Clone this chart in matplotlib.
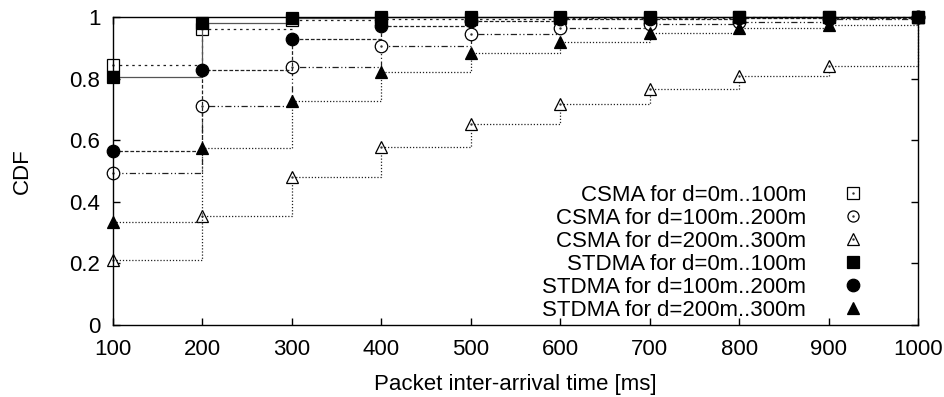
import matplotlib
matplotlib.use('Agg')
import matplotlib.pyplot as plt
from matplotlib.lines import Line2D
from matplotlib.legend_handler import HandlerTuple

plt.rcParams['font.family'] = ['Liberation Sans', 'DejaVu Sans']

x_ms = [100, 200, 300, 400, 500, 600, 700, 800, 900, 1000]
csma_0_100 = [0.845, 0.961, 0.990, 0.993, 0.995, 0.997, 0.998, 0.999, 0.999, 1.0]
csma_100_200 = [0.493, 0.710, 0.838, 0.907, 0.945, 0.963, 0.977, 0.985, 0.992, 1.0]
csma_200_300 = [0.210, 0.354, 0.481, 0.578, 0.654, 0.718, 0.766, 0.808, 0.841, 1.0]
stdma_0_100 = [0.806, 0.980, 0.997, 1.0, 1.0, 1.0, 1.0, 1.0, 1.0, 1.0]
stdma_100_200 = [0.564, 0.828, 0.929, 0.970, 0.987, 0.992, 0.995, 0.997, 0.998, 1.0]
stdma_200_300 = [0.335, 0.576, 0.728, 0.822, 0.884, 0.920, 0.948, 0.963, 0.974, 1.0]

labels = ['CSMA for d=0m..100m', 'CSMA for d=100m..200m', 'CSMA for d=200m..300m',
          'STDMA for d=0m..100m', 'STDMA for d=100m..200m', 'STDMA for d=200m..300m']
xticks = [100, 200, 300, 400, 500, 600, 700, 800, 900, 1000]
yticks = [0, 0.2, 0.4, 0.6, 0.8, 1.0]
ytick_labels = ['0', '0.2', '0.4', '0.6', '0.8', '1']

series = [csma_0_100, csma_100_200, csma_200_300, stdma_0_100, stdma_100_200, stdma_200_300]
styles = [
    dict(marker='s', mfc='white', mec='black', ls=(0, (2, 3)), color='#222222'),
    dict(marker='o', mfc='white', mec='black', ls=(0, (5, 2, 1, 2, 1, 2)), color='#222222'),
    dict(marker='^', mfc='white', mec='black', ls=(0, (1, 1.5)), color='#222222'),
    dict(marker='s', mfc='black', mec='black', ls='-', color='#555555'),
    dict(marker='o', mfc='black', mec='black', ls=(0, (3, 1.5)), color='#222222'),
    dict(marker='^', mfc='black', mec='black', ls=(0, (1, 1.5)), color='#222222'),
]

fig = plt.figure(figsize=(9.45, 3.97), dpi=100)
ax = fig.add_axes([113/945, (397-325)/397, (918-113)/945, (325-17)/397])

for ys, st in zip(series, styles):
    ax.plot(x_ms, ys, drawstyle='steps-post', lw=0.9, ls=st['ls'], color=st['color'],
            marker=st['marker'], mfc=st['mfc'], mec=st['mec'], mew=0.9, ms=9, clip_on=False)
    if st['mfc'] == 'white':
        ax.plot(x_ms, ys, ls='none', marker='.', ms=1.5, color='#333333', clip_on=False)

ax.set_xlim(100, 1000)
ax.set_ylim(0, 1)
ax.set_xticks(xticks)
ax.set_yticks(yticks)
ax.set_yticklabels(ytick_labels)
ax.tick_params(direction='in', top=True, right=True, length=5, width=1, labelsize=16)
ax.tick_params(axis='y', pad=9)
ax.tick_params(axis='x', pad=10)
for s in ax.spines.values():
    s.set_linewidth(1.0)

ax.set_xlabel('Packet inter-arrival time [ms]', fontsize=16, labelpad=10)
ax.set_ylabel('CDF', fontsize=16)
ax.yaxis.set_label_coords(-0.10, 0.5)

handles = []
for st in styles:
    main = Line2D([], [], linestyle='none', marker=st['marker'], mfc=st['mfc'], mec=st['mec'],
                  mew=0.9, ms=9 if st['mfc'] == 'black' else 8)
    if st['mfc'] == 'white':
        dot = Line2D([], [], linestyle='none', marker='.', ms=1.5, color='#333333')
        handles.append((main, dot))
    else:
        handles.append(main)
ax.legend(handles, labels, loc='lower right', bbox_to_anchor=((864-113)/805, 0.014),
          frameon=False, markerfirst=False, fontsize=16, handlelength=1.0,
          handletextpad=1.6, labelspacing=0.085, borderpad=0, borderaxespad=0,
          handler_map={tuple: HandlerTuple(ndivide=1)})

fig.savefig('out.png', dpi=100)
